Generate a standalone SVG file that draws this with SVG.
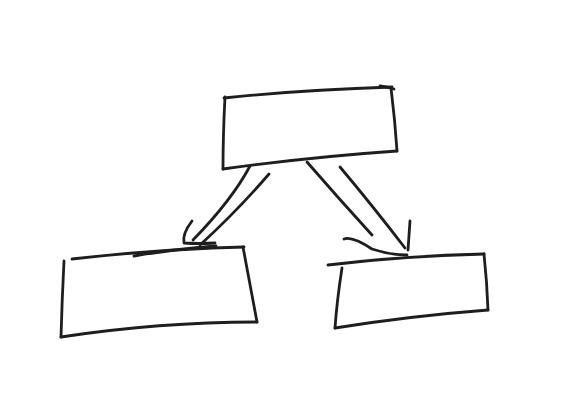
<svg xmlns="http://www.w3.org/2000/svg" width="572" height="404" viewBox="0 0 572 404">
<style>
.s{fill:none;stroke:#1e1e1e;stroke-width:2.8;stroke-linecap:round;stroke-linejoin:round}
</style>
<rect width="572" height="404" fill="#ffffff"/>
<g id="top-box" class="s">
<path d="M224,98 Q300,90 392,87"/>
<path d="M380,86 Q388,87 394,89"/>
<path d="M225,97 Q223,135 223,169"/>
<path d="M391,88 Q395,120 397,151"/>
<path d="M223,169 Q310,157 397,151"/>
</g>
<g id="left-box" class="s">
<path d="M72,259 Q160,249 244,247"/>
<path d="M134,256 Q175,249 216,246"/>
<path d="M64,261 Q62,300 61,337"/>
<path d="M243,247 Q250,285 257,322"/>
<path d="M61,337 Q160,322 257,322"/>
</g>
<g id="right-box" class="s">
<path d="M328,265 Q400,256 484,254"/>
<path d="M342,268 Q337,300 335,328"/>
<path d="M484,254 Q487,282 488,310"/>
<path d="M335,328 Q410,316 488,310"/>
</g>
<g id="connectors" class="s">
<path d="M250,166 Q232,200 193,240"/>
<path d="M269,174 Q238,210 200,245"/>
<path d="M192,221 Q182,234 184,243 Q200,244 215,243"/>
<path d="M307,162 Q340,200 372,235"/>
<path d="M340,167 Q372,205 405,248"/>
<path d="M410,221 Q409,236 408,250"/>
<path d="M344,239 Q352,236 372,249 Q390,255 407,255"/>
</g>
</svg>
